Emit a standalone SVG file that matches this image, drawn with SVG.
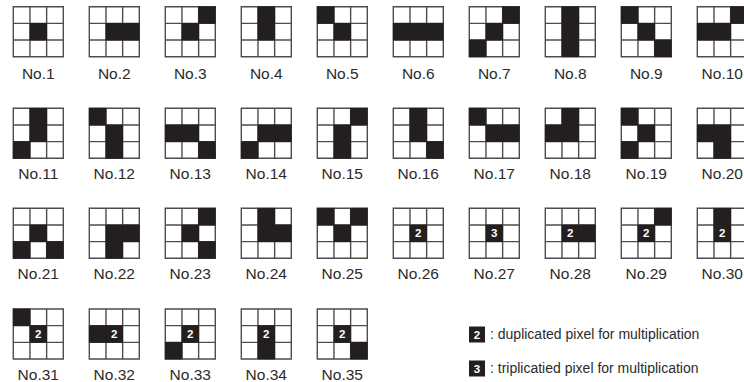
<svg xmlns="http://www.w3.org/2000/svg" xmlns:xlink="http://www.w3.org/1999/xlink" width="744" height="382" viewBox="0 0 744 382">
<style>
.bg{fill:#fff}
.cell{fill:#231f20}
.grid{fill:none;stroke:#4d4d4d;stroke-width:1.4}
.lbl{font-family:"Liberation Sans",Arial,sans-serif;font-size:15.5px;fill:#2b2b2b;text-anchor:middle}
.num{font-family:"Liberation Sans",Arial,sans-serif;font-size:11.5px;font-weight:bold;fill:#fff;text-anchor:middle}
.leg{font-family:"Liberation Sans",Arial,sans-serif;font-size:14px;fill:#2b2b2b}
</style>
<defs>
<g id="grid">
<path class="grid" d="M0,0H50V50H0Z M16.667,0V50 M33.333,0V50 M0,16.667H50 M0,33.333H50"/>
</g>
<rect id="c" class="cell" x="-0.4" y="-0.4" width="17.467" height="17.467"/>
</defs>
<rect class="bg" width="744" height="382"/>

<!-- Row 1 -->
<g id="no1" transform="translate(13.3,6.7)"><use xlink:href="#grid"/>
<use xlink:href="#c" x="16.667" y="16.667"/>
<text class="lbl" x="25" y="72">No.1</text></g>
<g id="no2" transform="translate(89.3,6.7)"><use xlink:href="#grid"/>
<use xlink:href="#c" x="16.667" y="16.667"/><use xlink:href="#c" x="33.333" y="16.667"/>
<text class="lbl" x="25" y="72">No.2</text></g>
<g id="no3" transform="translate(165.3,6.7)"><use xlink:href="#grid"/>
<use xlink:href="#c" x="33.333" y="0"/><use xlink:href="#c" x="16.667" y="16.667"/>
<text class="lbl" x="25" y="72">No.3</text></g>
<g id="no4" transform="translate(241.3,6.7)"><use xlink:href="#grid"/>
<use xlink:href="#c" x="16.667" y="0"/><use xlink:href="#c" x="16.667" y="16.667"/>
<text class="lbl" x="25" y="72">No.4</text></g>
<g id="no5" transform="translate(317.3,6.7)"><use xlink:href="#grid"/>
<use xlink:href="#c" x="0" y="0"/><use xlink:href="#c" x="16.667" y="16.667"/>
<text class="lbl" x="25" y="72">No.5</text></g>
<g id="no6" transform="translate(393.3,6.7)"><use xlink:href="#grid"/>
<use xlink:href="#c" x="0" y="16.667"/><use xlink:href="#c" x="16.667" y="16.667"/><use xlink:href="#c" x="33.333" y="16.667"/>
<text class="lbl" x="25" y="72">No.6</text></g>
<g id="no7" transform="translate(469.3,6.7)"><use xlink:href="#grid"/>
<use xlink:href="#c" x="33.333" y="0"/><use xlink:href="#c" x="16.667" y="16.667"/><use xlink:href="#c" x="0" y="33.333"/>
<text class="lbl" x="25" y="72">No.7</text></g>
<g id="no8" transform="translate(545.3,6.7)"><use xlink:href="#grid"/>
<use xlink:href="#c" x="16.667" y="0"/><use xlink:href="#c" x="16.667" y="16.667"/><use xlink:href="#c" x="16.667" y="33.333"/>
<text class="lbl" x="25" y="72">No.8</text></g>
<g id="no9" transform="translate(621.3,6.7)"><use xlink:href="#grid"/>
<use xlink:href="#c" x="0" y="0"/><use xlink:href="#c" x="16.667" y="16.667"/><use xlink:href="#c" x="33.333" y="33.333"/>
<text class="lbl" x="25" y="72">No.9</text></g>
<g id="no10" transform="translate(697.3,6.7)"><use xlink:href="#grid"/>
<use xlink:href="#c" x="33.333" y="0"/><use xlink:href="#c" x="0" y="16.667"/><use xlink:href="#c" x="16.667" y="16.667"/>
<text class="lbl" x="25" y="72">No.10</text></g>

<!-- Row 2 -->
<g id="no11" transform="translate(13.3,108.3)"><use xlink:href="#grid"/>
<use xlink:href="#c" x="16.667" y="0"/><use xlink:href="#c" x="16.667" y="16.667"/><use xlink:href="#c" x="0" y="33.333"/>
<text class="lbl" x="25" y="70.5">No.11</text></g>
<g id="no12" transform="translate(89.3,108.3)"><use xlink:href="#grid"/>
<use xlink:href="#c" x="0" y="0"/><use xlink:href="#c" x="16.667" y="16.667"/><use xlink:href="#c" x="16.667" y="33.333"/>
<text class="lbl" x="25" y="70.5">No.12</text></g>
<g id="no13" transform="translate(165.3,108.3)"><use xlink:href="#grid"/>
<use xlink:href="#c" x="0" y="16.667"/><use xlink:href="#c" x="16.667" y="16.667"/><use xlink:href="#c" x="33.333" y="33.333"/>
<text class="lbl" x="25" y="70.5">No.13</text></g>
<g id="no14" transform="translate(241.3,108.3)"><use xlink:href="#grid"/>
<use xlink:href="#c" x="16.667" y="16.667"/><use xlink:href="#c" x="33.333" y="16.667"/><use xlink:href="#c" x="0" y="33.333"/>
<text class="lbl" x="25" y="70.5">No.14</text></g>
<g id="no15" transform="translate(317.3,108.3)"><use xlink:href="#grid"/>
<use xlink:href="#c" x="33.333" y="0"/><use xlink:href="#c" x="16.667" y="16.667"/><use xlink:href="#c" x="16.667" y="33.333"/>
<text class="lbl" x="25" y="70.5">No.15</text></g>
<g id="no16" transform="translate(393.3,108.3)"><use xlink:href="#grid"/>
<use xlink:href="#c" x="16.667" y="0"/><use xlink:href="#c" x="16.667" y="16.667"/><use xlink:href="#c" x="33.333" y="33.333"/>
<text class="lbl" x="25" y="70.5">No.16</text></g>
<g id="no17" transform="translate(469.3,108.3)"><use xlink:href="#grid"/>
<use xlink:href="#c" x="0" y="0"/><use xlink:href="#c" x="16.667" y="16.667"/><use xlink:href="#c" x="33.333" y="16.667"/>
<text class="lbl" x="25" y="70.5">No.17</text></g>
<g id="no18" transform="translate(545.3,108.3)"><use xlink:href="#grid"/>
<use xlink:href="#c" x="16.667" y="0"/><use xlink:href="#c" x="0" y="16.667"/><use xlink:href="#c" x="16.667" y="16.667"/>
<text class="lbl" x="25" y="70.5">No.18</text></g>
<g id="no19" transform="translate(621.3,108.3)"><use xlink:href="#grid"/>
<use xlink:href="#c" x="0" y="0"/><use xlink:href="#c" x="16.667" y="16.667"/><use xlink:href="#c" x="0" y="33.333"/>
<text class="lbl" x="25" y="70.5">No.19</text></g>
<g id="no20" transform="translate(697.3,108.3)"><use xlink:href="#grid"/>
<use xlink:href="#c" x="0" y="16.667"/><use xlink:href="#c" x="16.667" y="16.667"/><use xlink:href="#c" x="16.667" y="33.333"/>
<text class="lbl" x="25" y="70.5">No.20</text></g>

<!-- Row 3 -->
<g id="no21" transform="translate(13.3,208.3)"><use xlink:href="#grid"/>
<use xlink:href="#c" x="16.667" y="16.667"/><use xlink:href="#c" x="0" y="33.333"/><use xlink:href="#c" x="33.333" y="33.333"/>
<text class="lbl" x="25" y="70.5">No.21</text></g>
<g id="no22" transform="translate(89.3,208.3)"><use xlink:href="#grid"/>
<use xlink:href="#c" x="16.667" y="16.667"/><use xlink:href="#c" x="33.333" y="16.667"/><use xlink:href="#c" x="16.667" y="33.333"/>
<text class="lbl" x="25" y="70.5">No.22</text></g>
<g id="no23" transform="translate(165.3,208.3)"><use xlink:href="#grid"/>
<use xlink:href="#c" x="33.333" y="0"/><use xlink:href="#c" x="16.667" y="16.667"/><use xlink:href="#c" x="33.333" y="33.333"/>
<text class="lbl" x="25" y="70.5">No.23</text></g>
<g id="no24" transform="translate(241.3,208.3)"><use xlink:href="#grid"/>
<use xlink:href="#c" x="16.667" y="0"/><use xlink:href="#c" x="16.667" y="16.667"/><use xlink:href="#c" x="33.333" y="16.667"/>
<text class="lbl" x="25" y="70.5">No.24</text></g>
<g id="no25" transform="translate(317.3,208.3)"><use xlink:href="#grid"/>
<use xlink:href="#c" x="0" y="0"/><use xlink:href="#c" x="33.333" y="0"/><use xlink:href="#c" x="16.667" y="16.667"/>
<text class="lbl" x="25" y="70.5">No.25</text></g>
<g id="no26" transform="translate(393.3,208.3)"><use xlink:href="#grid"/>
<use xlink:href="#c" x="16.667" y="16.667"/>
<text class="num" x="25" y="29.2">2</text><text class="lbl" x="25" y="70.5">No.26</text></g>
<g id="no27" transform="translate(469.3,208.3)"><use xlink:href="#grid"/>
<use xlink:href="#c" x="16.667" y="16.667"/>
<text class="num" x="25" y="29.2">3</text><text class="lbl" x="25" y="70.5">No.27</text></g>
<g id="no28" transform="translate(545.3,208.3)"><use xlink:href="#grid"/>
<use xlink:href="#c" x="16.667" y="16.667"/><use xlink:href="#c" x="33.333" y="16.667"/>
<text class="num" x="25" y="29.2">2</text><text class="lbl" x="25" y="70.5">No.28</text></g>
<g id="no29" transform="translate(621.3,208.3)"><use xlink:href="#grid"/>
<use xlink:href="#c" x="33.333" y="0"/><use xlink:href="#c" x="16.667" y="16.667"/>
<text class="num" x="25" y="29.2">2</text><text class="lbl" x="25" y="70.5">No.29</text></g>
<g id="no30" transform="translate(697.3,208.3)"><use xlink:href="#grid"/>
<use xlink:href="#c" x="16.667" y="0"/><use xlink:href="#c" x="16.667" y="16.667"/>
<text class="num" x="25" y="29.2">2</text><text class="lbl" x="25" y="70.5">No.30</text></g>

<!-- Row 4 -->
<g id="no31" transform="translate(13.3,309)"><use xlink:href="#grid"/>
<use xlink:href="#c" x="0" y="0"/><use xlink:href="#c" x="16.667" y="16.667"/>
<text class="num" x="25" y="29.2">2</text><text class="lbl" x="25" y="70.5">No.31</text></g>
<g id="no32" transform="translate(89.3,309)"><use xlink:href="#grid"/>
<use xlink:href="#c" x="0" y="16.667"/><use xlink:href="#c" x="16.667" y="16.667"/>
<text class="num" x="25" y="29.2">2</text><text class="lbl" x="25" y="70.5">No.32</text></g>
<g id="no33" transform="translate(165.3,309)"><use xlink:href="#grid"/>
<use xlink:href="#c" x="0" y="33.333"/><use xlink:href="#c" x="16.667" y="16.667"/>
<text class="num" x="25" y="29.2">2</text><text class="lbl" x="25" y="70.5">No.33</text></g>
<g id="no34" transform="translate(241.3,309)"><use xlink:href="#grid"/>
<use xlink:href="#c" x="16.667" y="33.333"/><use xlink:href="#c" x="16.667" y="16.667"/>
<text class="num" x="25" y="29.2">2</text><text class="lbl" x="25" y="70.5">No.34</text></g>
<g id="no35" transform="translate(317.3,309)"><use xlink:href="#grid"/>
<use xlink:href="#c" x="33.333" y="33.333"/><use xlink:href="#c" x="16.667" y="16.667"/>
<text class="num" x="25" y="29.2">2</text><text class="lbl" x="25" y="70.5">No.35</text></g>

<!-- Legend -->
<g id="legend">
<rect class="cell" x="469" y="326.5" width="16" height="16"/>
<text class="num" x="477" y="338.7">2</text>
<text class="leg" x="490" y="338.5">: duplicated pixel for multiplication</text>
<rect class="cell" x="469" y="360.5" width="16" height="16"/>
<text class="num" x="477" y="372.7">3</text>
<text class="leg" x="490" y="372.5">: triplicatied pixel for multiplication</text>
</g>
<g id="connectors"/>
</svg>
